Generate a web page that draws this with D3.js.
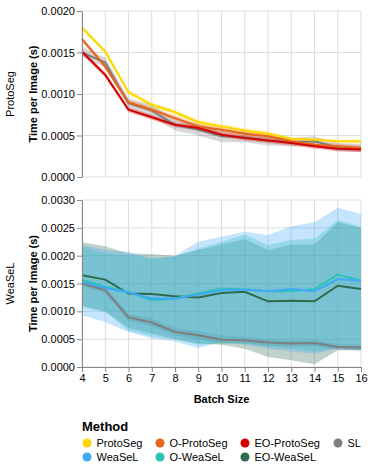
<!DOCTYPE html>
<html><head><meta charset="utf-8">
<script src="https://cdn.jsdelivr.net/npm/d3@7"></script>
<style>body{margin:0;background:#fff}svg{font-family:"Liberation Sans",Arial,sans-serif}</style>
</head><body><div id="chart"></div>
<script>
const batchSizes = [4,5,6,7,8,9,10,11,12,13,14,15,16];
const methods = ["ProtoSeg","O-ProtoSeg","EO-ProtoSeg","SL","WeaSeL","O-WeaSeL","EO-WeaSeL"];
const methodColors = ["#FFD700","#E8641A","#D40000","#7F7F7F","#3FA9F5","#2CC3B5","#2E6B4C"];
const rows = ["ProtoSeg","WeaSeL"];
const yTicksTop = [0,0.0005,0.001,0.0015,0.002];
const yTicksBottom = [0,0.0005,0.001,0.0015,0.002,0.0025,0.003];

// ProtoSeg facet
const protoSegMean = [0.0018,0.00151,0.00102,0.00087,0.00078,0.00066,0.00061,0.00056,0.00052,0.00046,0.00045,0.00043,0.00043];
const protoSegLo   = [0.00177,0.00148,0.00099,0.00084,0.00075,0.00063,0.00058,0.00053,0.00049,0.00044,0.00043,0.00041,0.00041];
const protoSegHi   = [0.00183,0.00154,0.00105,0.0009,0.00081,0.00069,0.00064,0.00059,0.00055,0.00048,0.00047,0.00045,0.00045];
const oProtoSegMean = [0.00166,0.00133,0.0009,0.00081,0.00071,0.00061,0.00057,0.00052,0.00049,0.00043,0.00039,0.00037,0.00035];
const oProtoSegLo   = [0.00163,0.0013,0.00087,0.00078,0.00068,0.00058,0.00054,0.00049,0.00046,0.0004,0.00036,0.00034,0.00032];
const oProtoSegHi   = [0.00169,0.00136,0.00093,0.00084,0.00074,0.00064,0.0006,0.00055,0.00052,0.00046,0.00042,0.0004,0.00038];
const eoProtoSegMean = [0.00151,0.00123,0.00081,0.00072,0.00063,0.00059,0.00051,0.00047,0.00044,0.00041,0.00037,0.00034,0.00033];
const eoProtoSegLo   = [0.00148,0.0012,0.00078,0.00069,0.0006,0.00056,0.00048,0.00044,0.00041,0.00038,0.00034,0.00031,0.0003];
const eoProtoSegHi   = [0.00154,0.00126,0.00084,0.00075,0.00066,0.00062,0.00054,0.0005,0.00047,0.00044,0.0004,0.00037,0.00036];
const slMean = [0.0015,0.00138,0.00089,0.0008,0.00063,0.00057,0.00049,0.00048,0.00044,0.00042,0.00043,0.00036,0.00035];
const slLo   = [0.00145,0.00132,0.00083,0.00073,0.00056,0.0005,0.00042,0.00042,0.00038,0.00037,0.00037,0.00031,0.0003];
const slHi   = [0.00157,0.00144,0.00095,0.00087,0.0007,0.00064,0.00056,0.00054,0.0005,0.00047,0.00049,0.00041,0.0004];

// WeaSeL facet
const weaselMean = [0.00153,0.00142,0.00134,0.00123,0.00123,0.0013,0.00138,0.00139,0.00136,0.0014,0.00136,0.00158,0.00155];
const weaselLo   = [0.00093,0.00081,0.00063,0.00051,0.00046,0.00034,0.00045,0.0004,0.00033,0.00028,0.00024,0.00033,0.00029];
const weaselHi   = [0.0022,0.0021,0.00207,0.00194,0.002,0.00225,0.00234,0.00243,0.00237,0.00253,0.0026,0.00286,0.00275];
const oWeaselMean = [0.00157,0.00144,0.00135,0.0012,0.00123,0.00132,0.00141,0.00139,0.00136,0.00136,0.0014,0.00166,0.00155];
const oWeaselLo   = [0.00107,0.00099,0.00065,0.00055,0.0005,0.0004,0.00042,0.00042,0.00037,0.00033,0.00028,0.00035,0.0003];
const oWeaselHi   = [0.00216,0.00204,0.00201,0.00196,0.00198,0.00213,0.00225,0.00238,0.00219,0.00228,0.00231,0.00264,0.00252];
const eoWeaselMean = [0.00165,0.00157,0.00132,0.00131,0.00127,0.00125,0.00133,0.00135,0.00118,0.00119,0.00118,0.00146,0.0014];
const eoWeaselLo   = [0.0011,0.001,0.0007,0.0006,0.0005,0.00042,0.0004,0.00033,0.00018,0.00012,0.00005,0.0003,0.0003];
const eoWeaselHi   = [0.00224,0.00217,0.00204,0.00203,0.002,0.0021,0.0022,0.0023,0.0021,0.0022,0.0022,0.0026,0.0025];

const color = d3.scaleOrdinal().domain(methods).range(methodColors);
const mk = (m, mean, lo, hi) => ({method:m, values: batchSizes.map((b,i)=>({x:b, y:mean[i], lo:lo[i], hi:hi[i]}))});
const facets = [
  {name:"ProtoSeg", ticks:yTicksTop, max:0.002, top:11, bottom:177,
   series:[mk("SL",slMean,slLo,slHi), mk("ProtoSeg",protoSegMean,protoSegLo,protoSegHi), mk("O-ProtoSeg",oProtoSegMean,oProtoSegLo,oProtoSegHi), mk("EO-ProtoSeg",eoProtoSegMean,eoProtoSegLo,eoProtoSegHi)]},
  {name:"WeaSeL", ticks:yTicksBottom, max:0.003, top:200, bottom:367,
   series:[mk("SL",slMean,slLo,slHi), mk("EO-WeaSeL",eoWeaselMean,eoWeaselLo,eoWeaselHi), mk("O-WeaSeL",oWeaselMean,oWeaselLo,oWeaselHi), mk("WeaSeL",weaselMean,weaselLo,weaselHi)]}
];

const W=368,H=467;
const svg = d3.select("#chart").append("svg").attr("width",W).attr("height",H);
const x = d3.scaleLinear().domain([4,16]).range([82,361]);

facets.forEach((f,fi)=>{
  const y = d3.scaleLinear().domain([0,f.max]).range([f.bottom,f.top]);
  const g = svg.append("g");
  // grid
  g.selectAll(".gx").data(batchSizes).enter().append("line")
    .attr("x1",d=>x(d)).attr("x2",d=>x(d)).attr("y1",f.top).attr("y2",f.bottom)
    .attr("stroke","#ddd").attr("stroke-width",1);
  g.selectAll(".gy").data(f.ticks).enter().append("line")
    .attr("x1",82).attr("x2",361).attr("y1",d=>y(d)).attr("y2",d=>y(d))
    .attr("stroke","#ddd").attr("stroke-width",1);
  // bands
  const area = d3.area().x(d=>x(d.x)).y0(d=>y(d.lo)).y1(d=>y(d.hi));
  g.selectAll(".band").data(f.series).enter().append("path")
    .attr("d",d=>area(d.values)).attr("fill",d=>color(d.method)).attr("opacity",0.3);
  // lines
  const line = d3.line().x(d=>x(d.x)).y(d=>y(d.y));
  g.selectAll(".ln").data(f.series).enter().append("path")
    .attr("d",d=>line(d.values)).attr("fill","none").attr("stroke",d=>color(d.method)).attr("stroke-width",2);
  // y axis
  const ya = svg.append("g").attr("transform","translate(82,0)")
    .call(d3.axisLeft(y).tickValues(f.ticks).tickFormat(d3.format(".4f")).tickSize(5).tickSizeOuter(0).tickPadding(2));
  ya.selectAll("text").attr("font-size",11).attr("fill","#000").attr("font-family","Liberation Sans, Arial, sans-serif");
  ya.selectAll("line").attr("stroke","#888");
  ya.select(".domain").attr("stroke","#888");
  // y title
  const cy=(f.top+f.bottom)/2;
  svg.append("text").attr("transform",`translate(37,${cy}) rotate(-90)`).attr("text-anchor","middle")
    .attr("font-size",11).attr("font-weight","bold").text("Time per Image (s)");
  svg.append("text").attr("transform",`translate(14,${cy}) rotate(-90)`).attr("text-anchor","middle")
    .attr("font-size",11).text(f.name);
  if(fi===1){
    const xa = svg.append("g").attr("transform",`translate(0,${f.bottom})`)
      .call(d3.axisBottom(x).tickValues(batchSizes).tickFormat(d3.format("d")).tickSize(5).tickSizeOuter(0).tickPadding(2));
    xa.selectAll("text").attr("font-size",11).attr("fill","#000").attr("font-family","Liberation Sans, Arial, sans-serif");
    xa.selectAll("line").attr("stroke","#888");
    xa.select(".domain").attr("stroke","#888");
  }
});
svg.append("text").attr("x",221.5).attr("y",403).attr("text-anchor","middle")
  .attr("font-size",11).attr("font-weight","bold").text("Batch Size");

// legend
const leg = svg.append("g");
leg.append("text").attr("x",82).attr("y",431).attr("font-size",13).attr("font-weight","bold").text("Method");
const colX=[87,160,245,338], rowY=[443,457];
methods.forEach((m,i)=>{
  let r,c;
  if(i<4){r=0;c=i;} else {r=1;c=i-4;}
  leg.append("circle").attr("cx",colX[c]).attr("cy",rowY[r]).attr("r",4.5).attr("fill",color(m));
  leg.append("text").attr("x",colX[c]+9.5).attr("y",rowY[r]+4).attr("font-size",11).text(m);
});
</script></body></html>
